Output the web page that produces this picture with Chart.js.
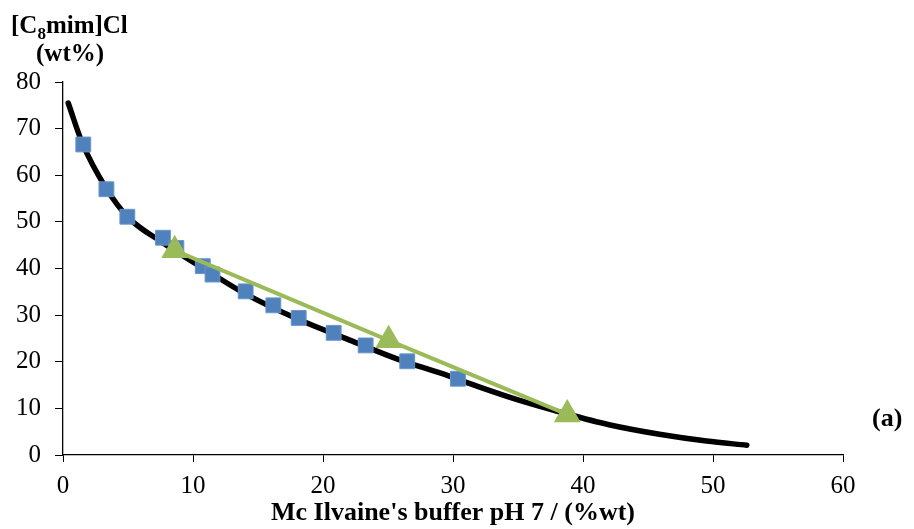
<!DOCTYPE html>
<html>
<head>
<meta charset="utf-8">
<script src="https://cdn.jsdelivr.net/npm/chart.js@4"></script>
<style>
  body { margin: 0; background: #fff; }
  #wrap { width: 914px; height: 529px; }
</style>
</head>
<body>
<div id="wrap"><canvas id="binodal"></canvas></div>
<script>
// binodal curve (fitted line)
const curveX = [0.4, 1.5, 3.3, 5.0, 7.7, 10.7, 14.0, 18.0, 22.0, 26.0, 29.0, 32.0, 35.0, 38.5, 42.0, 46.0, 49.5, 52.6];
const curveY = [75.5, 66.8, 57.3, 51.0, 45.5, 40.2, 34.6, 29.2, 24.7, 20.3, 17.6, 14.6, 11.8, 9.0, 6.5, 4.4, 3.0, 2.1];

// experimental points
const expX = [1.56, 3.34, 4.95, 7.69, 8.72, 10.75, 11.5, 14.05, 16.18, 18.13, 20.82, 23.28, 26.48, 30.38];
const expY = [66.6, 57.0, 51.1, 46.6, 44.4, 40.5, 38.7, 35.1, 32.1, 29.4, 26.2, 23.5, 20.1, 16.35];

// tie-line
const tieX = [8.59, 25.05, 38.79];
const tieY = [43.9, 24.6, 8.7];

const xTicks = [0, 10, 20, 30, 40, 50, 60];
const yTicks = [0, 10, 20, 30, 40, 50, 60, 70, 80];

const pts = (xs, ys) => xs.map((x, i) => ({ x: x, y: ys[i] }));
const serif = "'Liberation Serif', 'Times New Roman', serif";

// axis caption at top left and panel label
const labels = {
  id: 'labels',
  afterDraw(chart) {
    const ctx = chart.ctx;
    ctx.save();
    ctx.fillStyle = '#000';
    ctx.textBaseline = 'alphabetic';
    ctx.textAlign = 'left';
    ctx.font = "bold 25px " + serif;
    let x = 11;
    ctx.fillText('[C', x, 33);
    x += ctx.measureText('[C').width;
    ctx.font = "bold 17px " + serif;
    ctx.fillText('8', x, 39);
    x += ctx.measureText('8').width;
    ctx.font = "bold 25px " + serif;
    ctx.fillText('mim]Cl', x, 33);
    ctx.fillText('(wt%)', 36, 61);
    ctx.font = "bold 26px " + serif;
    ctx.fillText('(a)', 872, 426);
    ctx.restore();
  }
};

new Chart(document.getElementById('binodal'), {
  type: 'scatter',
  data: {
    datasets: [{
      label: 'curve',
      data: pts(curveX, curveY),
      showLine: true,
      borderColor: '#000',
      borderWidth: 5.5,
      borderCapStyle: 'round',
      pointRadius: 0,
      cubicInterpolationMode: 'monotone',
      order: 3
    }, {
      label: 'experimental',
      data: pts(expX, expY),
      pointStyle: 'rect',
      pointRadius: 10.5,
      backgroundColor: '#4F81BD',
      borderColor: '#6B95C9',
      borderWidth: 1,
      order: 2
    }, {
      label: 'tie-line',
      data: pts(tieX, tieY),
      showLine: true,
      borderColor: '#9BBB59',
      borderWidth: 4,
      pointStyle: 'triangle',
      pointRadius: 11.5,
      pointBackgroundColor: '#9BBB59',
      pointBorderColor: '#9BBB59',
      order: 1
    }]
  },
  options: {
    responsive: true,
    maintainAspectRatio: false,
    animation: false,
    layout: { padding: { top: 82, right: 71, left: 0, bottom: 0 } },
    plugins: {
      legend: { display: false },
      tooltip: { enabled: false }
    },
    scales: {
      x: {
        type: 'linear',
        min: 0,
        max: 60,
        afterBuildTicks: s => { s.ticks = xTicks.map(v => ({ value: v })); },
        ticks: { color: '#000', font: { family: serif, size: 25 }, padding: 9 },
        grid: { drawOnChartArea: false, tickLength: 7, color: '#000' },
        border: { color: '#000', width: 1.3 },
        title: {
          display: true,
          text: "Mc Ilvaine's buffer pH 7 / (%wt)",
          color: '#000',
          font: { family: serif, size: 26, weight: 'bold' },
          padding: { top: 0, bottom: 0 }
        },
        afterFit: s => { s.height = 74; }
      },
      y: {
        type: 'linear',
        min: 0,
        max: 80,
        afterBuildTicks: s => { s.ticks = yTicks.map(v => ({ value: v })); },
        ticks: { color: '#000', font: { family: serif, size: 25 }, padding: 14 },
        grid: { drawOnChartArea: false, tickLength: 8, color: '#000' },
        border: { color: '#000', width: 1.3 },
        afterFit: s => { s.width = 63; }
      }
    }
  },
  plugins: [labels]
});
</script>
</body>
</html>
